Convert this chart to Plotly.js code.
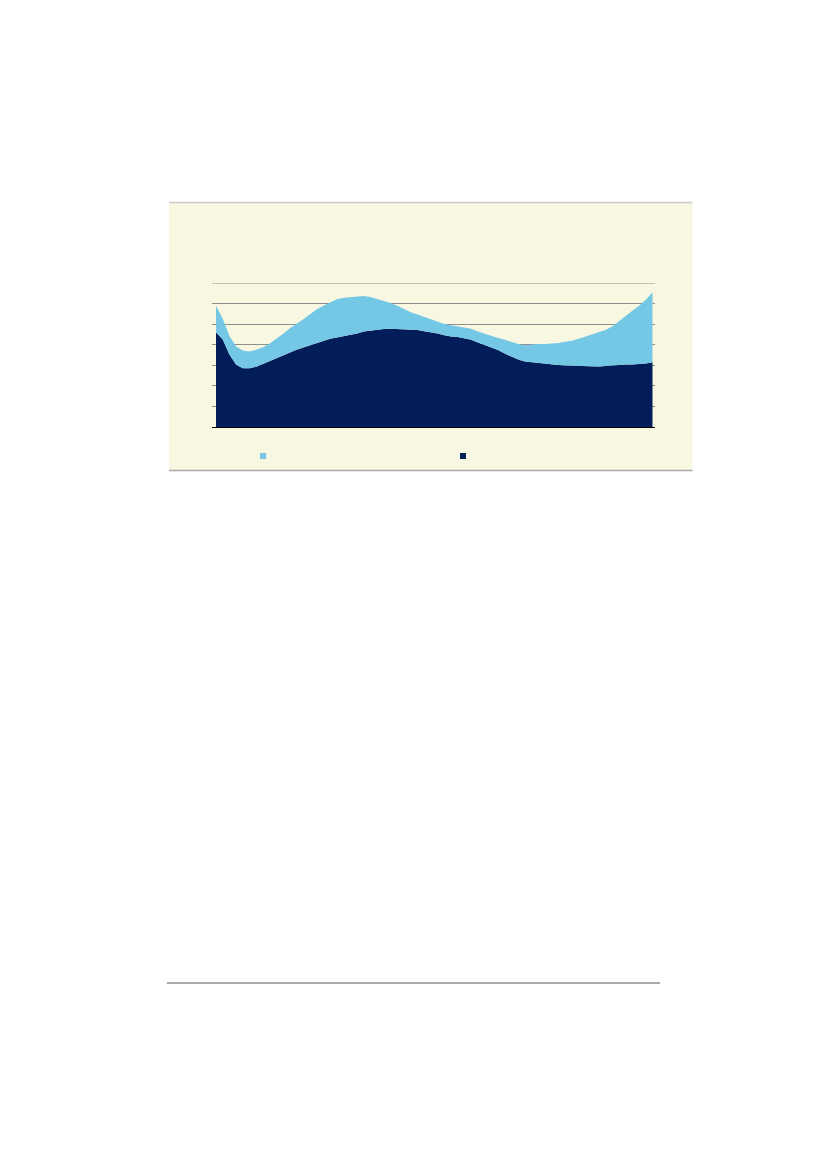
<!DOCTYPE html>
<html>
<head>
<meta charset="utf-8">
<script src="https://cdn.plot.ly/plotly-3.0.1.min.js"></script>
<style>
  html, body { margin: 0; padding: 0; background: #ffffff; }
  #chart { width: 827px; height: 1170px; }
</style>
</head>
<body>
<div id="chart"></div>
<script>
// ---- data (stacked area, lower series first) ----
var periods = [];
for (var i = 0; i < 66; i++) { periods.push(i); }

var darkSeries = [
  46.1, 42.5, 35.3, 30.2, 28.6, 28.5, 29.3, 30.7, 31.9, 33.3,
  34.9, 36.4, 37.5, 38.7, 39.8, 40.9, 42.1, 42.9, 43.5, 44.2,
  44.6, 45.5, 46.4, 46.9, 47.2, 47.6, 47.7, 47.6, 47.4, 47.2,
  47.1, 46.6, 46.1, 45.5, 44.6, 44.0, 43.8, 43.2, 42.4, 41.1,
  39.8, 38.5, 37.4, 35.7, 34.1, 32.8, 31.9, 31.5, 31.4, 30.9,
  30.4, 30.1, 29.9, 29.8, 29.6, 29.6, 29.6, 29.4, 29.6, 29.9,
  30.4, 30.4, 30.4, 30.6, 30.9, 31.5
];
var lightSeries = [
  12.8, 10.1, 8.9, 8.9, 8.6, 8.2, 8.2, 8.1, 8.7, 9.6,
  10.4, 11.6, 12.6, 13.7, 15.0, 16.4, 16.9, 17.8, 18.6, 18.6,
  18.6, 18.1, 17.3, 16.3, 15.1, 13.9, 12.6, 11.3, 9.9, 8.6,
  7.6, 6.9, 6.1, 5.8, 5.5, 5.5, 5.2, 5.2, 5.3, 5.3,
  5.5, 5.7, 5.9, 6.7, 7.1, 7.5, 7.9, 8.6, 8.9, 9.4,
  10.0, 10.7, 11.5, 12.1, 13.3, 14.4, 15.5, 16.7, 17.5, 18.9,
  21.0, 23.9, 26.1, 28.3, 30.9, 34.0
];
var yTicks = [0, 10, 20, 30, 40, 50, 60, 70];
var yMax = 70;

// ---- styles ----
var DARK = '#031D5B';
var LIGHT = '#74C8E6';
var PANEL = '#F8F7E1';
var GRID = '#8E8E8E';

// plot area in pixels
var L = 212, R = 655, T = 283, B = 427;
var W = 827, H = 1170;
var pw = R - L, ph = B - T;
function px(x) { return (x - L) / pw; }
function py(y) { return (B - y) / ph; }

var traces = [
  {
    x: periods, y: darkSeries, type: 'scatter', mode: 'lines',
    stackgroup: 'one', line: { width: 0, color: DARK }, fillcolor: DARK,
    name: '', showlegend: false, hoverinfo: 'skip'
  },
  {
    x: periods, y: lightSeries, type: 'scatter', mode: 'lines',
    stackgroup: 'one', line: { width: 0, color: LIGHT }, fillcolor: LIGHT,
    name: '', showlegend: false, hoverinfo: 'skip'
  }
];

// x range so the first/last periods sit at 216 / 652.5 px
var x0px = 216, x1px = 652.5;
var unit = (x1px - x0px) / (periods.length - 1);
var xr = [0 - (x0px - L) / unit, (periods.length - 1) + (R - x1px) / unit];

var shapes = [
  // chart panel
  { type: 'rect', xref: 'paper', yref: 'paper', layer: 'below',
    x0: px(169), x1: px(692.5), y0: py(470), y1: py(202),
    fillcolor: PANEL, line: { width: 0 } },
  { type: 'line', xref: 'paper', yref: 'paper', layer: 'below',
    x0: px(169), x1: px(692.5), y0: py(202.5), y1: py(202.5),
    line: { color: '#C9C9C9', width: 1.5 } },
  { type: 'line', xref: 'paper', yref: 'paper', layer: 'below',
    x0: px(169), x1: px(692.5), y0: py(470.5), y1: py(470.5),
    line: { color: '#A9A9A9', width: 1.5 } },
  // top gridline (at the range edge, which Plotly omits)
  { type: 'line', xref: 'paper', yref: 'y', layer: 'below',
    x0: 0, x1: 1, y0: yMax, y1: yMax,
    line: { color: GRID, width: 1 } },
  // legend keys
  { type: 'rect', xref: 'paper', yref: 'paper',
    x0: px(260), x1: px(266), y0: py(459), y1: py(453),
    fillcolor: LIGHT, line: { width: 0 } },
  { type: 'rect', xref: 'paper', yref: 'paper',
    x0: px(460), x1: px(466), y0: py(459), y1: py(453),
    fillcolor: DARK, line: { width: 0 } },
  // footnote rule
  { type: 'line', xref: 'paper', yref: 'paper',
    x0: px(167), x1: px(660), y0: py(983), y1: py(983),
    line: { color: '#555555', width: 1.2 } }
];

var layout = {
  width: W, height: H,
  margin: { l: L, r: W - R, t: T, b: H - B, pad: 0 },
  paper_bgcolor: '#FFFFFF',
  plot_bgcolor: 'rgba(0,0,0,0)',
  showlegend: false,
  xaxis: {
    range: xr, showgrid: false, zeroline: false,
    showticklabels: false, ticks: '',
    showline: true, linecolor: '#000000', linewidth: 1,
    fixedrange: true
  },
  yaxis: {
    range: [0, yMax], tickvals: yTicks, showgrid: true,
    gridcolor: GRID, gridwidth: 1, zeroline: false,
    showticklabels: false, ticks: '', showline: false,
    fixedrange: true
  },
  shapes: shapes
};

Plotly.newPlot('chart', traces, layout, { staticPlot: true, displayModeBar: false });
</script>
</body>
</html>
